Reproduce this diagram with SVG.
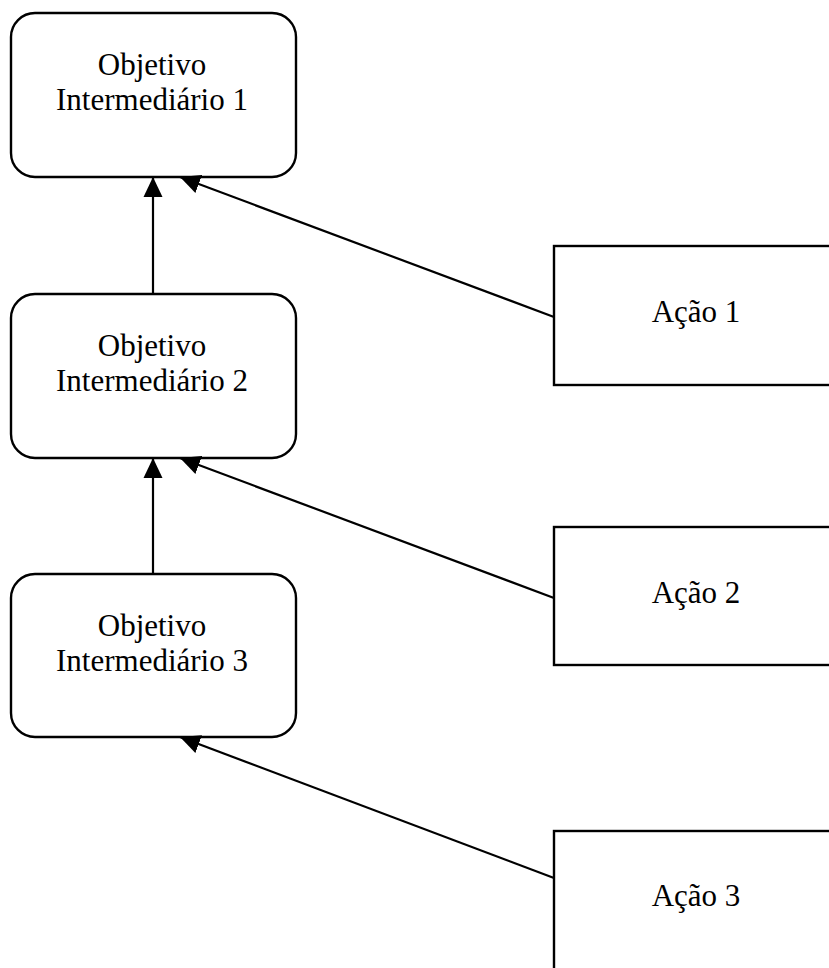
<svg xmlns="http://www.w3.org/2000/svg" width="829" height="968" viewBox="0 0 829 968">
  <style>
    .obj { fill: #ffffff; stroke: #000000; stroke-width: 2.4; }
    .act { fill: #ffffff; stroke: #000000; stroke-width: 2.4; }
    .lbl { font-family: "Liberation Serif", "Times New Roman", serif; font-size: 31px; fill: #000000; text-anchor: middle; }
    .link { stroke: #000000; stroke-width: 2.2; fill: none; marker-end: url(#head); }
  </style>
  <defs>
    <marker id="head" viewBox="0 0 20 20" refX="20" refY="10" markerWidth="20" markerHeight="20" markerUnits="userSpaceOnUse" orient="auto">
      <path d="M0,0.5 L20,10 L0,19.5 z" fill="#000000"/>
    </marker>
  </defs>
  <rect width="829" height="968" fill="#ffffff"/>

  <g id="objetivo-1">
    <rect class="obj" x="11" y="13" width="285" height="164" rx="24" ry="24"/>
    <text class="lbl" x="152" y="75">Objetivo</text>
    <text class="lbl" x="152" y="110">Intermediário 1</text>
  </g>
  <g id="objetivo-2">
    <rect class="obj" x="11" y="294" width="285" height="164" rx="24" ry="24"/>
    <text class="lbl" x="152" y="356">Objetivo</text>
    <text class="lbl" x="152" y="391">Intermediário 2</text>
  </g>
  <g id="objetivo-3">
    <rect class="obj" x="11" y="574" width="285" height="163" rx="24" ry="24"/>
    <text class="lbl" x="152" y="636">Objetivo</text>
    <text class="lbl" x="152" y="671">Intermediário 3</text>
  </g>

  <g id="acao-1">
    <rect class="act" x="554" y="246" width="284" height="139"/>
    <text class="lbl" x="696" y="322">Ação 1</text>
  </g>
  <g id="acao-2">
    <rect class="act" x="554" y="527" width="284" height="138"/>
    <text class="lbl" x="696" y="603">Ação 2</text>
  </g>
  <g id="acao-3">
    <rect class="act" x="554" y="831" width="284" height="140"/>
    <text class="lbl" x="696" y="906">Ação 3</text>
  </g>

  <g id="connectors">
    <line class="link" x1="153" y1="294" x2="153" y2="177"/>
    <line class="link" x1="153" y1="574" x2="153" y2="458"/>
    <line class="link" x1="554" y1="317" x2="180" y2="177"/>
    <line class="link" x1="554" y1="598" x2="180" y2="458"/>
    <line class="link" x1="554" y1="878" x2="180" y2="737"/>
  </g>
</svg>
